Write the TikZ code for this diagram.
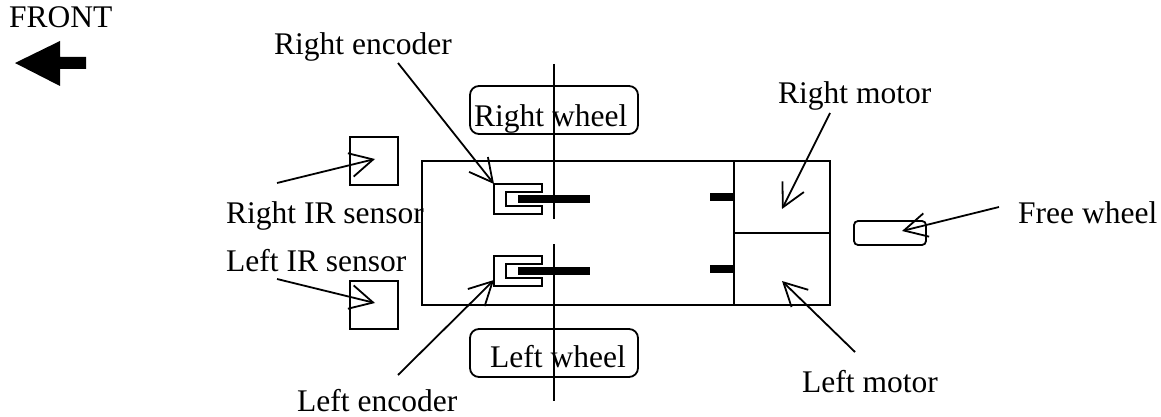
\documentclass[tikz,border=0pt]{standalone}
\usepackage{fontspec}
\setmainfont{Liberation Serif}
\usetikzlibrary{arrows.meta}
\tikzset{
  x=1pt,y=-1pt,
  lbl/.style={inner sep=0pt,anchor=base west,font=\fontsize{31.5}{34}\selectfont},
  ln/.style={line width=1.8pt},
  conn/.style={line width=1.8pt,-{Straight Barb[length=23pt,width=24pt,line width=1.8pt]}},
  blk/.style={fill=black,draw=none,inner sep=0pt},
  sq/.style={draw,line width=1.8pt,inner sep=0pt}
}
\begin{document}
\begin{tikzpicture}
\useasboundingbox (0,0) rectangle (1161,417);
% body
\node[sq,minimum width=408pt,minimum height=144pt] (body) at (626,233) {};
\node[sq,minimum width=96pt,minimum height=72pt] (rm) at (782,197) {};
\node[sq,minimum width=96pt,minimum height=72pt] (lm) at (782,269) {};
\node[blk,minimum width=24pt,minimum height=8pt] (rb) at (722,197) {};
\node[blk,minimum width=24pt,minimum height=8pt] (lb) at (722,269) {};
% IR sensors
\node[sq,minimum width=48pt,minimum height=48pt] (rir) at (374,161) {};
\node[sq,minimum width=48pt,minimum height=48pt] (lir) at (374,305) {};
% free wheel
\node[sq,rounded corners=4pt,minimum width=72pt,minimum height=24pt] (fw) at (890,233) {};
% wheels
\node[sq,rounded corners=9pt,minimum width=168pt,minimum height=48pt] (rw) at (554,110) {};
\node[sq,rounded corners=9pt,minimum width=168pt,minimum height=48pt] (lw) at (554,353) {};
% axles
\coordinate (a1) at (554,64); \coordinate (a2) at (554,219);
\coordinate (a3) at (554,244); \coordinate (a4) at (554,401);
\draw[ln] (a1) -- (a2);
\draw[ln] (a3) -- (a4);
% encoders
\draw[ln] (494,184) -- (542,184) -- (542,192) -- (506,192) -- (506,206) -- (542,206) -- (542,214) -- (494,214) -- cycle;
\draw[ln] (494,256) -- (542,256) -- (542,264) -- (506,264) -- (506,278) -- (542,278) -- (542,286) -- (494,286) -- cycle;
\node[blk,minimum width=72pt,minimum height=8pt] (re) at (554,199) {};
\node[blk,minimum width=72pt,minimum height=8pt] (le) at (554,271) {};
% front arrow
\fill (15,63) -- (60,41) -- (60,57) -- (86,57) -- (86,69) -- (60,69) -- (60,86) -- cycle;
% labels
\node[lbl] (tf) at (9,28) {FRONT};
\node[lbl] (tre) at (274,55) {Right encoder};
\node[lbl] (trw) at (474,127) {Right wheel};
\node[lbl] (trm) at (778,103) {Right motor};
\node[lbl] (tfw) at (1018,223) {Free wheel};
\node[lbl] (trir) at (226,223) {Right IR sensor};
\node[lbl] (tlir) at (226,271) {Left IR sensor};
\node[lbl] (tlw) at (490,367) {Left wheel};
\node[lbl] (tlm) at (802,392) {Left motor};
\node[lbl] (tle) at (297,411) {Left encoder};
% connectors
\coordinate (s1) at (277,183); \coordinate (e1) at (375,159);
\coordinate (s2) at (277,279); \coordinate (e2) at (375,303);
\coordinate (s3) at (398,63); \coordinate (e3) at (494,184);
\coordinate (s4) at (398,375); \coordinate (e4) at (494,280);
\coordinate (s5) at (830,113); \coordinate (e5) at (782,209);
\coordinate (s6) at (855,352); \coordinate (e6) at (782,281);
\coordinate (s7) at (999,207); \coordinate (e7) at (902,231);
\foreach \s/\e in {s1/e1,s2/e2,s3/e3,s4/e4,s5/e5,s6/e6,s7/e7}{\draw[conn] (\s) -- (\e);}
\end{tikzpicture}
\end{document}
